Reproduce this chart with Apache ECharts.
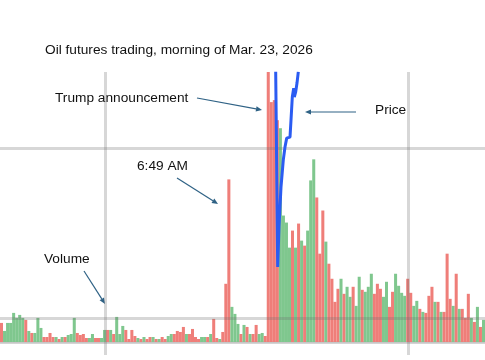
<!DOCTYPE html>
<html>
<head>
<meta charset="utf-8">
<script src="https://cdn.jsdelivr.net/npm/echarts@6/dist/echarts.min.js"></script>
<style>html,body{margin:0;padding:0;background:#fff}#c{width:485px;height:360px}</style>
</head>
<body>
<div id="c"></div>
<script>
// ---- data ----
const titleText = 'Oil futures trading, morning of Mar. 23, 2026';
// one bar per minute; first bar 5:34 AM
const startMinute = 5 * 60 + 34;
// volume per minute (relative units)
const volumes = [
  19, 11, 19, 19, 29, 24, 27, 24, 22, 11,
  9, 9, 24, 14, 5, 5, 9, 5, 5, 3,
  5, 5, 7, 8, 24, 9, 7, 8, 4, 4,
  8, 4, 4, 4, 12, 12, 12, 8, 25, 8,
  16, 12, 3, 12, 6, 4, 3, 5, 3, 5,
  5, 3, 3, 5, 3, 6, 8, 8, 11, 10,
  15, 8, 8, 13, 5, 3, 5, 5, 5, 8,
  23, 4, 3, 10, 58, 162, 35, 28, 18, 8,
  17, 15, 8, 8, 17, 8, 9, 6, 300, 239,
  241, 221, 213, 126, 119, 94, 111, 94, 118, 101,
  96, 111, 161, 182, 144, 88, 131, 100, 78, 63,
  40, 53, 63, 48, 55, 45, 55, 36, 65, 52,
  50, 55, 68, 48, 58, 53, 45, 60, 35, 50,
  68, 56, 49, 46, 63, 49, 36, 41, 33, 30,
  29, 46, 55, 40, 40, 30, 30, 88, 43, 36,
  68, 33, 33, 24, 48, 24, 20, 35, 15, 22
];
// 1 = price up in that minute (green), -1 = down (red)
const direction = [
  -1, 1, 1, 1, 1, 1, 1, 1, -1, 1,
  -1, 1, 1, 1, -1, -1, -1, -1, 1, -1,
  1, -1, 1, 1, 1, -1, -1, -1, -1, 1,
  1, -1, -1, 1, 1, -1, 1, -1, 1, 1,
  1, -1, -1, -1, -1, 1, -1, 1, -1, -1,
  1, -1, 1, -1, -1, 1, 1, -1, -1, -1,
  -1, 1, -1, -1, -1, -1, 1, 1, -1, 1,
  -1, -1, 1, -1, -1, -1, 1, 1, 1, -1,
  1, -1, 1, -1, -1, 1, 1, -1, -1, -1,
  -1, -1, 1, 1, 1, 1, -1, 1, -1, 1,
  -1, 1, 1, 1, -1, -1, -1, 1, -1, -1,
  -1, -1, 1, -1, 1, 1, -1, 1, 1, -1,
  1, 1, 1, -1, -1, -1, 1, 1, -1, -1,
  1, 1, 1, 1, -1, -1, 1, 1, -1, 1,
  -1, -1, -1, 1, -1, 1, -1, -1, -1, 1,
  -1, 1, -1, -1, -1, 1, -1, 1, -1, 1
];
// price path (time in minutes from first bar, price)
const priceTime = [90.95, 91.12, 91.35, 91.61, 92.04, 92.70, 93.46, 94.02, 94.58, 95.67, 96.00, 96.43, 96.89, 97.09, 97.55, 97.98, 98.41];
const priceValue = [97.24, 95.82, 93.76, 91.50, 92.68, 93.85, 94.65, 95.03, 95.29, 95.32, 95.82, 96.50, 96.76, 96.50, 96.65, 96.91, 97.24];
// price gridlines
const priceMin = 85, priceMax = 100, priceStep = 5;
// annotations
const notes = [
  { text: 'Trump announcement', x: 55, y: 98, from: [197, 98], to: [262, 110] },
  { text: 'Price', x: 375, y: 110, from: [356, 112], to: [305, 112] },
  { text: '6:49 AM', x: 137, y: 166, from: [177, 178], to: [218, 204] },
  { text: 'Volume', x: 44, y: 259, from: [84, 271], to: [105, 304] }
];

// ---- chart ----
const RED = '#ef7e79', GREEN = '#7fc78e', BLUE = '#2b5cf2', ARROW = '#2f6285';
const GRIDC = 'rgba(110,110,110,0.28)';
const FONT = '"Liberation Sans", Arial, sans-serif';
const N = volumes.length;
const cats = volumes.map((_, i) => {
  const m = startMinute + i;
  return Math.floor(m / 60) + ':' + String(m % 60).padStart(2, '0');
});

function arrow(a, b) {
  const dx = b[0] - a[0], dy = b[1] - a[1];
  const L = Math.hypot(dx, dy), ux = dx / L, uy = dy / L;
  const hl = 6, hw = 2.6;
  const bx = b[0] - ux * hl, by = b[1] - uy * hl;
  return [
    { type: 'line', shape: { x1: a[0], y1: a[1], x2: bx, y2: by }, style: { stroke: ARROW, lineWidth: 1.2 } },
    { type: 'polygon', shape: { points: [[b[0], b[1]], [bx - uy * hw, by + ux * hw], [bx + uy * hw, by - ux * hw]] }, style: { fill: ARROW } }
  ];
}
const graphics = [];
notes.forEach(n => {
  graphics.push({ type: 'text', x: n.x, y: n.y, style: { text: n.text, fill: '#111', font: '13.7px ' + FONT, verticalAlign: 'middle', align: 'left' } });
  graphics.push(...arrow(n.from, n.to));
});

const gridBase = { containLabel: false, outerBoundsMode: 'none' };
const chart = echarts.init(document.getElementById('c'), null, { renderer: 'canvas' });
chart.setOption({
  animation: false,
  backgroundColor: '#fff',
  title: { text: titleText, left: 45, top: 43, padding: 0, textStyle: { fontFamily: FONT, fontSize: 13.7, fontWeight: 'normal', color: '#111' } },
  grid: [
    Object.assign({ left: 0, right: 0, top: 72, bottom: 18 }, gridBase),
    Object.assign({ left: -197.5, right: -226.5, top: 72, bottom: 5 }, gridBase),
    Object.assign({ left: 0, right: 0, top: -22, bottom: -128 }, gridBase)
  ],
  xAxis: [
    { gridIndex: 0, type: 'category', data: cats, boundaryGap: true,
      axisLine: { show: true, lineStyle: { color: 'rgba(120,120,120,0.42)', width: 2.5 } },
      axisTick: { show: false }, axisLabel: { show: false }, splitLine: { show: false } },
    { gridIndex: 1, type: 'value', min: 0, max: 3, interval: 1, z: 5,
      axisLine: { show: false }, axisTick: { show: false }, axisLabel: { show: false },
      splitLine: { show: true, lineStyle: { color: GRIDC, width: 3 } } },
    { gridIndex: 2, type: 'value', min: 0, max: N, show: false }
  ],
  yAxis: [
    { gridIndex: 0, type: 'value', min: 0, max: 269, show: false },
    { gridIndex: 1, type: 'value', min: 0, max: 1, show: false },
    { gridIndex: 2, type: 'value', min: priceMin, max: priceMax, interval: priceStep, z: 5,
      axisLine: { show: false }, axisTick: { show: false }, axisLabel: { show: false },
      splitLine: { show: true, lineStyle: { color: GRIDC, width: 3 } } }
  ],
  series: [
    { type: 'bar', xAxisIndex: 0, yAxisIndex: 0, barCategoryGap: '0%', barGap: '0%', clip: true, z: 2,
      data: volumes.map((v, i) => ({ value: v, itemStyle: { color: direction[i] > 0 ? GREEN : RED } })) },
    { type: 'line', xAxisIndex: 2, yAxisIndex: 2, symbol: 'none', z: 10, clip: false,
      lineStyle: { color: BLUE, width: 3 },
      data: priceTime.map((t, i) => [t, priceValue[i]]) }
  ],
  graphic: graphics
});
</script>
</body>
</html>
